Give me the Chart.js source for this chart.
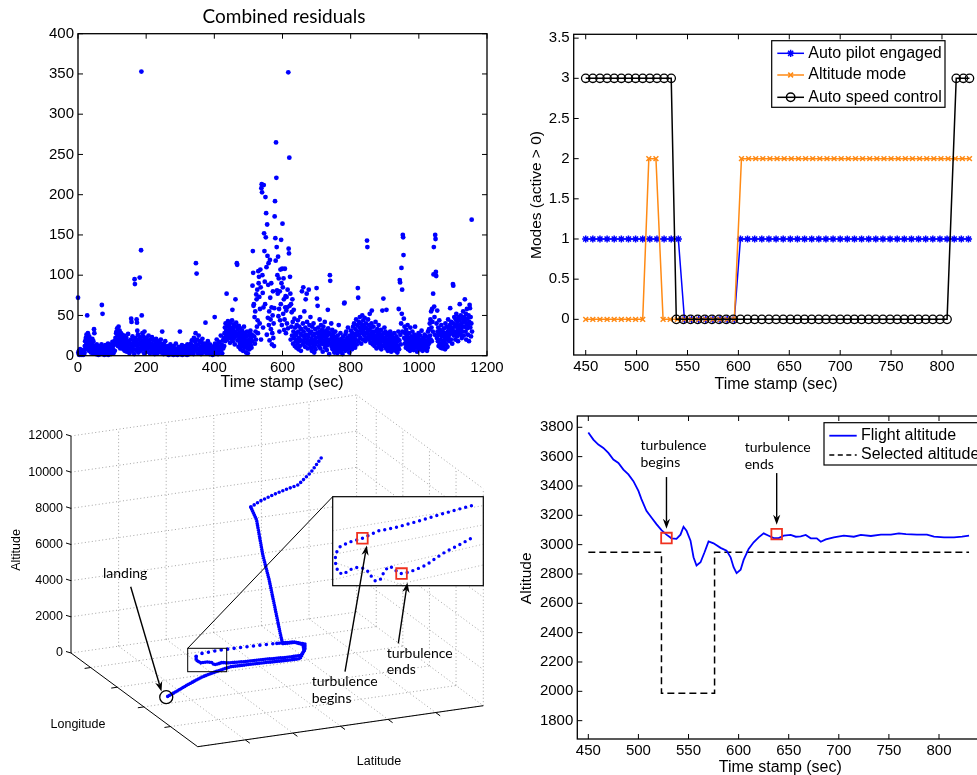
<!DOCTYPE html>
<html>
<head>
<meta charset="utf-8">
<script src="https://cdn.jsdelivr.net/npm/chart.js@4.4.1/dist/chart.umd.min.js"></script>
<style>
html, body { margin: 0; padding: 0; background: #fff; }
body { width: 977px; height: 775px; overflow: hidden; position: relative; }
canvas { position: absolute; }
</style>
</head>
<body>
<canvas id="resid" width="520" height="395" style="left:0;top:0"></canvas>
<canvas id="modes" width="500" height="395" style="left:500px;top:0"></canvas>
<canvas id="track" width="500" height="385" style="left:0;top:390px"></canvas>
<canvas id="alt" width="500" height="380" style="left:500px;top:395px"></canvas>
<script>
// ---------- data: combined residuals (time, residual) ----------
const residualTicksX = [0, 200, 400, 600, 800, 1000, 1200];
const residualTicksY = [0, 50, 100, 150, 200, 250, 300, 350, 400];
const residualPoints = [
  [0,72],[1,4],[2,2],[3,6],[4,1],[5,3],[6,8],[7,2],[8,5],[9,1],[10,4],[11,3],[12,7],[13,2],[14,5],[15,1],[16,3],[17,6],[18,2],[19,4],
  [20,12],[21,18],[22,8],[23,22],[24,14],[25,26],[26,10],[27,50],[28,17],[29,28],[30,12],[31,20],[32,6],[33,24],[34,15],[35,9],[36,19],[37,13],[38,4],[39,16],
  [40,11],[41,7],[42,21],[43,14],[44,3],[45,18],[46,9],[47,33],[48,28],[49,12],
  [51,5],[52,10],[53,2],[55,14],[56,7],[57,3],[59,11],[60,1],[61,8],[63,4],[64,12],[65,6],[67,2],[68,9],[69,14],[70,63],[71,5],[72,52],[73,7],[75,3],
  [76,10],[77,1],[79,6],[80,13],[81,4],[83,8],[84,2],[85,11],[87,5],[88,15],[89,1],[91,7],[92,3],[93,12],[95,6],[96,9],[97,2],[99,14],[100,5],[101,17],[103,8],[104,3],[105,13],[107,18],[108,6],
  [110,22],[111,15],[112,28],[113,30],[114,19],[115,34],[116,25],[117,12],[118,27],[119,36],[120,20],[121,16],[122,31],[123,24],[124,9],[125,21],[126,28],[127,14],[128,18],[129,26],
  [130,11],[131,23],[132,17],[133,8],[134,20],[135,13],[136,25],[137,6],[138,15],[139,19],
  [141,10],[142,22],[143,5],[145,16],[146,12],[147,27],[148,7],[150,18],[151,3],[152,14],[154,9],[155,20],[156,46],[157,42],[158,11],[159,6],[160,24],[161,15],[163,8],[164,19],
  [165,2],[166,95],[167,89],[168,13],[169,22],[170,7],[171,17],[172,45],[173,41],[174,31],[175,10],[176,26],[177,4],[178,14],[179,20],[180,9],[181,97],[182,16],[183,23],[184,6],
  [185,131],[186,353],[187,50],[188,12],[189,28],[190,19],[191,8],[192,24],[193,15],[194,3],[195,30],[196,11],[197,21],[198,17],[199,6],
  [200,14],[201,22],[203,9],[204,18],[205,5],[207,25],[208,12],[209,16],[211,3],[212,20],[213,10],[215,7],[216,15],[217,23],[219,4],[220,13],[221,19],[223,8],[224,11],[225,2],
  [227,17],[228,6],[229,21],[231,10],[232,14],[233,3],[235,18],[236,8],[237,12],[239,5],[240,16],[241,9],[243,20],[244,4],[245,11],[247,30],[248,7],[249,13],[251,2],[252,15],
  [253,9],[255,5],[256,18],[257,11],[259,3],
  [260,8],[262,2],[263,12],[265,5],[266,1],[268,9],[269,4],[271,14],[272,6],[274,2],[275,10],[277,3],[278,7],[280,1],[281,12],[283,5],[284,8],[286,2],[287,15],[289,4],
  [290,6],[292,1],[293,9],[295,3],[296,11],[298,5],[299,30],[300,2],[302,8],[303,4],[305,13],[306,1],[308,6],[309,10],[311,3],[312,7],[314,2],[315,12],[317,5],[318,9],
  [320,1],[321,14],[323,4],[324,8],[326,2],[327,11],[329,6],
  [330,9],[331,15],[333,4],[334,19],[336,7],[337,12],[339,2],[340,22],[341,10],[343,6],[344,17],[345,28],[346,115],[347,13],[348,102],[349,8],[350,20],[352,3],[353,14],[354,25],
  [356,9],[357,5],[358,18],[360,11],[361,2],[363,16],[364,7],[365,21],[367,12],[368,4],[370,9],[371,15],[373,6],[374,41],[375,10],[377,3],[378,13],[380,8],[381,18],[383,5],
  [384,11],[386,2],[387,14],[389,7],[390,3],[392,10],[393,5],[395,1],[396,8],[398,4],[399,12],
  [400,6],[401,48],[402,15],[404,3],[405,10],[407,20],[408,5],[410,13],[411,2],[413,8],[414,17],[416,4],[417,11],[419,25],[420,7],[422,14],[423,3],[425,19],[426,9],[428,22],[429,12],
  [430,28],[431,35],[432,18],[433,40],[434,24],[435,31],[436,77],[437,20],[438,36],[439,27],[440,43],[441,30],[442,22],[443,38],[444,26],[445,33],[446,16],[447,41],[448,29],[449,21],
  [450,35],[451,25],[452,44],[453,57],[454,18],[455,32],[456,27],[457,39],[458,22],[459,30],[460,14],[461,36],[462,70],[463,24],[464,41],[465,28],[466,115],[467,113],[468,19],[469,33],
  [470,25],[471,11],[472,37],[473,21],[474,29],[475,15],[476,34],[477,8],[478,23],[479,18],[480,27],[481,12],[482,31],[483,20],[484,6],[485,25],[486,16],[487,36],[488,10],[489,22],
  [490,28],[491,13],[492,19],[493,4],[494,24],[495,15],[496,30],[497,9],[498,3],[499,18],
  [500,12],[501,25],[502,20],[503,8],[504,28],[505,16],[506,31],[507,13],[508,22],[509,10],[510,26],[511,18],[512,87],[513,130],[514,103],[515,62],[516,64],[517,24],[518,48],[519,15],
  [520,55],[521,30],[522,20],[523,76],[524,70],[525,36],[526,82],[527,44],[528,28],[529,105],
  [530,90],[531,98],[532,73],[533,40],[534,58],[535,107],[536,85],[537,20],[538,208],[539,213],[540,203],[541,100],[542,78],[543,35],[544,60],[545,212],[546,152],[547,130],[548,92],[549,64],
  [550,197],[551,147],[552,177],[553,110],[554,26],[555,163],[556,124],[557,47],[558,88],[559,115],[560,38],[561,55],[562,19],[563,119],[564,72],[565,45],[566,33],[567,90],[568,60],[569,14],
  [570,28],[571,50],[572,80],[573,22],[574,40],[575,12],[576,59],[577,173],[578,192],[579,146],[580,118],[581,265],[582,221],[583,135],[584,81],[585,100],[586,77],[587,123],[588,49],[589,96],
  [590,58],[591,30],[592,80],[593,44],[594,107],[595,64],[596,144],[597,90],[598,38],[599,108],[600,164],[601,85],[602,52],[603,96],[604,70],[605,32],[606,45],[607,108],[608,60],[609,74],
  [610,28],[611,56],[612,73],[613,40],[614,60],[615,82],[616,34],[617,352],[618,133],[619,127],[620,246],[621,62],[622,98],[623,77],[624,20],[625,64],[626,36],[627,54],[628,25],[629,70],
  [630,42],[631,15],[632,30],[633,57],[634,22],[635,46],[636,12],[637,35],[638,28],[639,18],
  [640,26],[641,10],[642,38],[643,20],[644,15],[645,44],[646,30],[647,8],[648,22],[649,36],[650,18],[651,12],[652,48],[653,27],[654,6],[655,33],[656,19],[657,80],[658,25],[659,14],
  [660,40],[661,85],[662,30],[663,17],[664,55],[665,22],[666,11],[667,35],[668,70],[669,26],[670,16],[671,77],[672,42],[673,20],[674,9],[675,32],[676,24],[677,82],[678,14],[679,38],
  [680,28],[681,18],[682,48],[683,10],[684,30],[685,21],[686,6],[687,36],[688,15],[689,25],[690,11],[691,40],[692,19],[693,4],[694,27],[695,13],[696,33],[697,8],[698,22],[699,16],
  [700,84],[701,71],[702,28],[703,62],[704,17],[705,35],[706,24],[707,12],[708,30],[709,45],[710,20],[711,9],[712,26],[713,38],[714,15],[715,22],[716,32],[717,18],[718,5],[719,28],
  [720,36],[721,14],[722,24],[723,19],[724,42],[725,10],[726,27],[727,16],[728,31],[729,21],[730,7],[731,25],[732,13],[733,57],[734,34],[735,18],[736,29],[737,2],[738,20],[739,100],
  [740,93],[741,15],[742,26],[743,40],[744,11],[745,22],[746,32],[747,8],[748,17],[749,28],[750,13],[751,24],[752,4],[753,19],[754,10],[755,30],[756,15],[757,6],[758,22],[759,12],
  [760,18],[761,3],[762,25],[763,9],[764,14],[765,38],[766,20],[767,7],[768,16],[769,11],[770,28],[771,5],[772,13],[773,21],[774,8],[775,17],[776,2],[777,12],[778,24],[779,9],
  [780,15],[781,65],[782,66],[783,19],[784,6],[785,27],[786,12],[787,30],[788,18],[789,8],[790,22],[791,14],[792,35],[793,10],[794,20],[795,16],[796,4],[797,25],[798,13],[799,9],
  [800,20],[801,31],[802,14],[803,24],[804,8],[805,28],[806,18],[807,36],[808,12],[809,22],[810,40],[811,16],[812,27],[813,10],[814,33],[815,20],[816,45],[817,25],[818,14],[819,38],
  [820,30],[821,84],[822,72],[823,18],[824,42],[825,26],[826,35],[827,48],[828,22],[829,31],[830,40],[831,15],[832,36],[833,28],[834,50],[835,33],[836,20],[837,44],[838,30],[839,38],
  [840,25],[841,47],[842,35],[843,18],[844,28],[845,40],[846,22],[847,34],[848,143],[849,135],[850,30],[851,45],[852,26],[853,38],[854,20],[855,32],[856,52],[857,24],[858,16],[859,35],
  [860,27],[861,40],[862,56],[863,21],[864,30],[865,14],[866,26],[867,36],[868,18],[869,24],[870,12],[871,30],[872,20],[873,42],[874,16],[875,25],[876,9],[877,22],[878,33],[879,15],
  [880,28],[881,19],[882,38],[883,11],[884,24],[885,30],[886,17],[887,21],[888,14],[889,32],[890,8],[891,26],[892,19],[893,56],[894,23],[895,12],[896,71],[897,28],[898,17],[899,35],
  [900,22],[901,13],[902,30],[903,18],[904,9],[905,57],[906,25],[907,15],[908,20],[909,6],[910,28],[911,12],[912,18],[913,24],[914,8],[915,15],[916,30],[917,11],[918,20],[919,5],
  [920,16],[921,26],[922,10],[923,14],[924,22],[925,7],[926,18],[927,12],[928,28],[929,9],[930,15],[931,20],[932,6],[933,13],[934,24],[935,10],[936,17],[937,4],[938,21],[939,12],
  [940,30],[941,58],[942,8],[943,19],[944,94],[945,91],[946,26],[947,14],[948,40],[949,109],
  [950,52],[951,82],[952,30],[953,150],[954,147],[955,125],[956,46],[957,22],[958,36],[959,15],[960,28],[961,20],[962,10],[963,32],[964,18],[965,25],[966,12],[967,38],[968,8],[969,22],
  [970,16],[971,28],[972,13],[973,20],[974,6],[975,35],[976,18],[977,11],[978,24],[979,15],[980,9],[981,30],[982,19],[983,14],[984,22],[985,7],[986,17],[987,26],[988,12],[989,36],
  [990,20],[991,10],[992,15],[993,24],[994,18],[995,5],[996,13],[997,22],[998,9],[999,28],[1000,16],[1001,11],[1002,20],[1003,14],[1004,25],[1005,8],[1006,18],[1007,12],[1008,31],[1009,15],
  [1010,20],[1011,6],[1012,14],[1013,22],[1014,10],[1015,17],[1016,12],[1017,26],[1018,8],[1019,15],[1020,19],[1021,11],[1022,24],[1023,13],[1024,6],[1025,18],[1026,10],[1027,30],[1028,14],[1029,21],
  [1030,33],[1031,16],[1032,40],[1033,25],[1034,45],[1035,20],[1036,55],[1037,35],[1038,18],[1039,58],[1040,42],[1041,30],[1042,77],[1043,101],[1044,135],[1045,61],[1046,48],[1047,26],[1048,150],[1049,145],
  [1050,104],[1051,99],[1052,40],[1053,22],[1054,56],[1055,30],[1056,18],[1057,35],[1058,12],[1059,26],[1060,44],[1061,15],[1062,32],[1063,20],[1064,10],[1065,28],[1066,38],[1067,14],[1068,24],[1069,9],
  [1070,30],[1071,18],[1072,12],[1073,26],[1074,34],[1075,16],[1076,22],[1077,8],[1078,40],[1079,28],[1080,14],[1081,20],[1082,36],[1083,25],[1084,11],[1085,30],[1086,45],[1087,22],[1088,33],[1089,18],
  [1090,26],[1091,38],[1092,59],[1093,30],[1094,20],[1095,42],[1096,28],[1097,35],[1098,15],[1099,32],
  [1100,89],[1101,87],[1102,40],[1103,25],[1104,48],[1105,30],[1106,36],[1107,20],[1108,45],[1109,28],[1110,52],[1111,38],[1112,24],[1113,42],[1114,32],[1115,18],[1116,48],[1117,35],[1118,28],[1119,44],
  [1120,64],[1121,38],[1122,26],[1123,50],[1124,32],[1125,40],[1126,22],[1127,46],[1128,30],[1129,36],[1130,55],[1131,42],[1132,25],[1133,48],[1134,36],[1135,70],[1136,44],[1137,30],[1138,52],[1139,20],
  [1140,40],[1141,58],[1142,34],[1143,46],[1144,26],[1145,38],[1146,50],[1147,18],[1148,42],[1149,63],[1150,59],[1151,35],[1152,48],[1153,24],[1154,40],[1155,169],[1156,30]
];

// ---------- data: modes ----------
const modeTicksX = [450, 500, 550, 600, 650, 700, 750, 800];
const modeTicksY = [0, 0.5, 1, 1.5, 2, 2.5, 3, 3.5];
const autopilotTime = [450,457,464,471,478,485,492,499,506,513,520,527,534,541,547,554,561,568,575,582,589,596,602,609,616,623,630,637,644,651,658,665,672,679,686,693,700,707,714,721,728,735,742,749,756,763,770,777,784,791,798,805,812,819,826];
const autopilotMode = [1,1,1,1,1,1,1,1,1,1,1,1,1,1,0,0,0,0,0,0,0,0,1,1,1,1,1,1,1,1,1,1,1,1,1,1,1,1,1,1,1,1,1,1,1,1,1,1,1,1,1,1,1,1,1];
const altModeTime = [450,457,464,471,478,485,492,499,506,512,519,526,533,540,547,554,561,568,575,582,589,596,603,610,617,624,631,638,645,652,659,666,673,680,687,694,701,708,715,722,729,736,743,750,757,764,771,778,785,792,799,806,813,820,827];
const altMode = [0,0,0,0,0,0,0,0,0,2,2,0,0,0,0,0,0,0,0,0,0,0,2,2,2,2,2,2,2,2,2,2,2,2,2,2,2,2,2,2,2,2,2,2,2,2,2,2,2,2,2,2,2,2,2];
const speedTime = [450,457,464,471,478,485,492,499,506,513,520,527,534,539,546,553,560,567,574,581,588,595,602,609,616,623,630,637,644,651,658,665,672,679,686,693,700,707,714,721,728,735,742,749,756,763,770,777,784,791,798,805,814,821,827];
const speedMode = [3,3,3,3,3,3,3,3,3,3,3,3,3,0,0,0,0,0,0,0,0,0,0,0,0,0,0,0,0,0,0,0,0,0,0,0,0,0,0,0,0,0,0,0,0,0,0,0,0,0,0,0,3,3,3];

// ---------- data: 3D flight track (longitude / latitude as axis fractions, altitude) ----------
const altitude3dTicks = [0, 2000, 4000, 6000, 8000, 10000, 12000];
const latitudeGrid = [1/6, 2/6, 3/6, 4/6, 5/6];
const longitudeGrid = [0.155, 0.365, 0.575, 0.785];
const trackLon = [0.335,0.375,0.396,0.359,0.328,0.305,0.299,0.362,0.487,0.540,0.621,0.690,0.718,
  0.717,0.742,0.797,0.846,0.847,0.834,0.831,0.817,0.801,0.798,0.787,0.800,0.773,0.758,0.741,0.710,
  0.693,0.687,0.687,0.692,0.696,0.702,0.711,0.750,0.809,0.876,0.873,0.863,0.853,0.833,0.778,0.715,0.655,0.596,0.565];
const trackLat = [0.737,0.682,0.626,0.596,0.563,0.526,0.497,0.490,0.457,0.457,0.445,0.431,0.427,
  0.473,0.494,0.473,0.437,0.391,0.302,0.246,0.180,0.170,0.157,0.148,0.132,0.126,0.112,0.102,0.116,
  0.144,0.192,0.241,0.309,0.364,0.413,0.472,0.487,0.464,0.420,0.380,0.289,0.238,0.187,0.159,0.134,0.109,0.089,0.0715];
const trackAlt = [11200,10700,10200,9800,9400,9000,8700,8300,7000,5800,4400,3500,3100,
  3060,3060,3060,3060,3060,3060,3060,3050,3020,2950,2860,3100,3000,2900,3000,3030,
  3040,3040,3040,3050,3060,3060,3060,3060,3060,3060,3050,3040,3000,2900,2400,1800,1100,400,0];
// zoomed view of the turn (inset axes 0..100 x 0..60)
const insetX = [97.8,84.5,71.2,58.0,44.7,33.6,22.6,13.7,7.1,4.4,3.8,4.4,6.0,9.3,13.7,18.1,22.6,25.9,28.8,31.4,34.7,36.9,40.3,43.6,46.9,49.6,54.6,60.2,66.8,73.5,80.1,88.9,98.9];
const insetY = [56.6,52.8,48.8,44.7,40.9,38.7,33.5,30.8,27.4,22.9,18.4,13.9,9.4,7.9,11.0,12.8,12.4,10.6,6.5,3.4,3.8,8.3,13.3,12.8,9.4,8.5,9.4,11.7,14.6,19.6,24.0,28.5,34.2];
const insetTurbBegin = 6, insetTurbEnd = 25;

// ---------- data: altitude vs selected altitude ----------
const altTicksX = [450, 500, 550, 600, 650, 700, 750, 800];
const altTicksY = [1800, 2000, 2200, 2400, 2600, 2800, 3000, 3200, 3400, 3600, 3800];
const flightTime = [450,455,460,465,470,475,480,485,490,495,500,503,508,513,518,523,528,533,538,542,545,548,552,555,558,562,566,570,575,582,588,592,595,598,602,605,610,615,620,625,630,635,640,645,652,657,662,667,672,678,682,687,695,705,715,722,732,742,752,760,767,778,788,795,805,815,823,830];
const flightAlt = [3765,3716,3682,3659,3625,3580,3557,3512,3479,3433,3366,3310,3230,3185,3140,3099,3068,3043,3039,3068,3122,3095,3027,2914,2858,2880,2948,3022,3009,2978,2959,2914,2846,2806,2829,2896,2971,3016,3050,3077,3061,3045,3045,3061,3066,3054,3056,3066,3043,3043,3020,3036,3050,3061,3054,3066,3059,3068,3068,3077,3072,3068,3068,3054,3050,3050,3054,3061];
const selectedTime = [450, 523, 523, 576, 576, 830];
const selectedAlt = [2948, 2948, 1987, 1987, 2948, 2948];
const turbulenceTime = [528, 638];
const turbulenceAlt = [3045, 3072];

// ---------- helpers ----------
const FONT = '"Liberation Sans", Arial, sans-serif';
const NOTE = 'Lato, "Open Sans", sans-serif';
const BLUE = '#0000ff';
const ORANGE = '#ff8a14';
const RED = '#f0311f';

function pts(xs, ys) { return xs.map((x, i) => ({ x: x, y: ys[i] })); }

function text(ctx, s, x, y, font, align, rot) {
  ctx.save();
  ctx.translate(x, y);
  if (rot) ctx.rotate(rot);
  ctx.font = font;
  ctx.fillStyle = '#000';
  ctx.textAlign = align || 'center';
  ctx.textBaseline = 'middle';
  ctx.fillText(s, 0, 0);
  ctx.restore();
}

function arrow(ctx, x0, y0, x1, y1) {
  const a = Math.atan2(y1 - y0, x1 - x0), L = 10, W = 3.6;
  const c = Math.cos(a), s = Math.sin(a);
  ctx.save();
  ctx.strokeStyle = '#000'; ctx.fillStyle = '#000'; ctx.lineWidth = 1.4;
  ctx.beginPath(); ctx.moveTo(x0, y0); ctx.lineTo(x1 - L * 0.7 * c, y1 - L * 0.7 * s); ctx.stroke();
  ctx.beginPath();
  ctx.moveTo(x1, y1);
  ctx.lineTo(x1 - L * c + W * s, y1 - L * s - W * c);
  ctx.lineTo(x1 - L * 0.7 * c, y1 - L * 0.7 * s);
  ctx.lineTo(x1 - L * c - W * s, y1 - L * s + W * c);
  ctx.closePath(); ctx.fill();
  ctx.restore();
}

function marker(ctx, style, x, y, r, color) {
  ctx.save();
  ctx.strokeStyle = color; ctx.lineWidth = 1.5;
  ctx.beginPath();
  if (style === 'star') { ctx.moveTo(x - r, y); ctx.lineTo(x + r, y); ctx.moveTo(x, y - r); ctx.lineTo(x, y + r); }
  if (style === 'star' || style === 'crossRot') {
    const d = r * 0.707;
    ctx.moveTo(x - d, y - d); ctx.lineTo(x + d, y + d); ctx.moveTo(x - d, y + d); ctx.lineTo(x + d, y - d);
  }
  if (style === 'circle') ctx.arc(x, y, r, 0, Math.PI * 2);
  ctx.stroke();
  ctx.restore();
}

function legend(ctx, box, rows) {
  ctx.save();
  ctx.fillStyle = '#fff';
  ctx.fillRect(box.x, box.y, box.w, box.h);
  ctx.strokeStyle = '#000'; ctx.lineWidth = 1.2;
  ctx.strokeRect(box.x, box.y, box.w, box.h);
  rows.forEach(r => {
    ctx.save();
    ctx.strokeStyle = r.color; ctx.lineWidth = r.width || 1.5;
    ctx.setLineDash(r.dash || []);
    ctx.beginPath(); ctx.moveTo(box.lx0, r.y); ctx.lineTo(box.lx1, r.y); ctx.stroke();
    ctx.restore();
    if (r.style) marker(ctx, r.style, (box.lx0 + box.lx1) / 2, r.y, r.radius, r.color);
    text(ctx, r.label, box.tx, r.y, '16px ' + FONT, 'left');
  });
  ctx.restore();
}

// MATLAB style box with inward ticks on all four sides
function frame(chart) {
  const { ctx, chartArea: a } = chart;
  const x = chart.scales.x, y = chart.scales.y;
  ctx.save();
  ctx.strokeStyle = '#000'; ctx.lineWidth = 1;
  ctx.beginPath();
  x.ticks.forEach(t => {
    const p = x.getPixelForValue(t.value);
    ctx.moveTo(p, a.bottom); ctx.lineTo(p, a.bottom - 5);
    ctx.moveTo(p, a.top); ctx.lineTo(p, a.top + 5);
  });
  y.ticks.forEach(t => {
    const p = y.getPixelForValue(t.value);
    ctx.moveTo(a.left, p); ctx.lineTo(a.left + 5, p);
    ctx.moveTo(a.right, p); ctx.lineTo(a.right - 5, p);
  });
  ctx.stroke();
  ctx.lineWidth = 1.3;
  ctx.strokeRect(a.left, a.top, a.right - a.left, a.bottom - a.top);
  ctx.restore();
}

function axis(min, max, ticks, fitSize, horizontal) {
  return {
    type: 'linear', min: min, max: max,
    grid: { display: false, drawTicks: false },
    border: { display: false },
    ticks: { color: '#000', font: { family: FONT, size: 15 }, padding: horizontal ? 3 : 4,
             autoSkip: false, maxRotation: 0, callback: v => String(v) },
    afterBuildTicks: s => { s.ticks = ticks.map(v => ({ value: v })); },
    afterFit: s => {
      if (horizontal) { s.height = fitSize; s.paddingLeft = 0; s.paddingRight = 0; }
      else { s.width = fitSize; s.paddingTop = 0; s.paddingBottom = 0; }
    }
  };
}

const common = { responsive: false, animation: false, events: [],
  plugins: { legend: { display: false }, tooltip: { enabled: false } } };

// ---------- chart 1: combined residuals ----------
new Chart(document.getElementById('resid'), {
  type: 'scatter',
  data: { datasets: [{
    data: residualPoints.map(p => ({ x: p[0], y: p[1] })),
    backgroundColor: BLUE, borderWidth: 0, pointRadius: 2.4, clip: false
  }] },
  options: Object.assign({}, common, {
    layout: { padding: { left: 0, top: 33.7, right: 33, bottom: 0 } },
    scales: { x: axis(0, 1200, residualTicksX, 39.3, true), y: axis(0, 400, residualTicksY, 78, false) }
  }),
  plugins: [{ id: 'residDeco', afterDatasetsDraw(chart) {
    frame(chart);
    const ctx = chart.ctx;
    ctx.save(); ctx.font = '19px ' + NOTE; ctx.fillStyle = '#000'; ctx.textAlign = 'center'; ctx.textBaseline = 'alphabetic';
    ctx.fillText('Combined residuals', 284, 22.5); ctx.restore();
    text(ctx, 'Time stamp (sec)', 282, 383, '16px ' + FONT);
  } }]
});

// ---------- chart 2: modes ----------
new Chart(document.getElementById('modes'), {
  type: 'scatter',
  data: { datasets: [
    { data: pts(autopilotTime, autopilotMode), showLine: true, borderColor: BLUE, backgroundColor: BLUE,
      borderWidth: 1.5, pointStyle: 'star', pointRadius: 3.6, pointBorderWidth: 1.5, clip: false, order: 3 },
    { data: pts(altModeTime, altMode), showLine: true, borderColor: ORANGE, backgroundColor: ORANGE,
      borderWidth: 1.5, pointStyle: 'crossRot', pointRadius: 3.4, pointBorderWidth: 1.5, clip: false, order: 2 },
    { data: pts(speedTime, speedMode), showLine: true, borderColor: '#000', backgroundColor: 'rgba(0,0,0,0)',
      borderWidth: 1.5, pointStyle: 'circle', pointRadius: 4.2, pointBorderWidth: 1.3, clip: false, order: 1 }
  ] },
  options: Object.assign({}, common, {
    layout: { padding: { left: 0, top: 34.3, right: 17.3, bottom: 0 } },
    scales: { x: axis(438.2, 840, modeTicksX, 40, true), y: axis(-0.444, 3.548, modeTicksY, 73.7, false) }
  }),
  plugins: [{ id: 'modesDeco', afterDatasetsDraw(chart) {
    frame(chart);
    const ctx = chart.ctx;
    text(ctx, 'Time stamp (sec)', 276, 385, '16px ' + FONT);
    text(ctx, 'Modes (active > 0)', 36.7, 195, '15.5px ' + FONT, 'center', -Math.PI / 2);
    legend(ctx, { x: 271.7, y: 40.7, w: 173.3, h: 66.6, lx0: 277.3, lx1: 304, tx: 308.3 }, [
      { label: 'Auto pilot engaged', y: 53.3, color: BLUE, style: 'star', radius: 3.6 },
      { label: 'Altitude mode', y: 75, color: ORANGE, style: 'crossRot', radius: 3.4 },
      { label: 'Auto speed control', y: 97.3, color: '#000', style: 'circle', radius: 4.2 }
    ]);
  } }]
});

// ---------- chart 3: 3D flight track ----------
const OFF_Y = 390;
function proj(lon, lat, alt) {
  return { x: 71 + 126.7 * lon + 285.6 * lat,
           y: 653 - OFF_Y + 93.7 * lon - 41 * lat - alt * 217 / 12000 };
}
const INSET = { x: 332.7, y: 496.7 - OFF_Y, w: 150.6, h: 89 };
function insetProj(ix, iy) {
  return { x: INSET.x + ix / 100 * INSET.w, y: INSET.y + (60 - iy) / 60 * INSET.h };
}
const trackPts = trackLon.map((u, i) => proj(u, trackLat[i], trackAlt[i]));
const insetPts = insetX.map((x, i) => insetProj(x, insetY[i]));
const landing = trackPts[trackPts.length - 1];

function seg(ctx, a, b) {
  ctx.moveTo(a.x, a.y); ctx.lineTo(b.x, b.y);
}

new Chart(document.getElementById('track'), {
  type: 'scatter',
  data: { datasets: [
    { data: [insetPts[insetTurbBegin], insetPts[insetTurbEnd]], pointStyle: 'rect', pointRadius: 7.5,
      borderColor: RED, pointBorderWidth: 1.8, backgroundColor: 'rgba(0,0,0,0)', order: 1 },
    { data: [landing], pointStyle: 'circle', pointRadius: 6.5, borderColor: '#000', pointBorderWidth: 1.3,
      backgroundColor: 'rgba(0,0,0,0)', order: 2 },
    { data: insetPts, showLine: true, pointRadius: 0, borderColor: BLUE, borderWidth: 3.4,
      borderCapStyle: 'round', borderDash: [0, 6], order: 3 },
    { data: trackPts, showLine: true, pointRadius: 0, borderColor: BLUE, borderWidth: 3.6,
      borderCapStyle: 'round', order: 4,
      segment: { borderDash: c => c.p0DataIndex < 6 ? [0, 4] : (c.p0DataIndex >= 28 && c.p0DataIndex < 34 ? [0, 6.5] : [0, 2.2]) } }
  ] },
  options: Object.assign({}, common, {
    layout: { padding: 0 },
    scales: { x: { type: 'linear', display: false, min: 0, max: 500 },
              y: { type: 'linear', display: false, min: 0, max: 385, reverse: true } }
  }),
  plugins: [{ id: 'box3d',
    beforeDatasetsDraw(chart) {
      const ctx = chart.ctx;
      const top = altitude3dTicks[altitude3dTicks.length - 1];
      ctx.save();
      ctx.strokeStyle = '#9a9a9a'; ctx.lineWidth = 0.9; ctx.setLineDash([1, 2.5]);
      ctx.beginPath();
      altitude3dTicks.forEach(a => {
        seg(ctx, proj(0, 0, a), proj(0, 1, a));   // back wall
        seg(ctx, proj(0, 1, a), proj(1, 1, a));   // side wall
      });
      latitudeGrid.concat([1]).forEach(f => {
        seg(ctx, proj(0, f, 0), proj(0, f, top));
        if (f < 1) seg(ctx, proj(0, f, 0), proj(1, f, 0));
      });
      longitudeGrid.concat([1]).forEach(f => {
        seg(ctx, proj(f, 1, 0), proj(f, 1, top));
        seg(ctx, proj(f, 0, 0), proj(f, 1, 0));
      });
      ctx.stroke();
      ctx.restore();
      // solid axes with ticks
      ctx.save();
      ctx.strokeStyle = '#000'; ctx.lineWidth = 1;
      ctx.beginPath();
      seg(ctx, proj(0, 0, 0), proj(0, 0, top));
      seg(ctx, proj(0, 0, 0), proj(1, 0, 0));
      seg(ctx, proj(1, 0, 0), proj(1, 1, 0));
      altitude3dTicks.forEach(a => { const p = proj(0, 0, a); ctx.moveTo(p.x, p.y); ctx.lineTo(p.x - 5, p.y - 1.5); });
      longitudeGrid.forEach(f => { const p = proj(f, 0, 0); ctx.moveTo(p.x, p.y); ctx.lineTo(p.x - 6, p.y + 0.9); });
      latitudeGrid.forEach(f => { const p = proj(1, f, 0); ctx.moveTo(p.x, p.y); ctx.lineTo(p.x + 4.5, p.y + 3.3); });
      ctx.stroke();
      ctx.restore();
      altitude3dTicks.forEach(a => { const p = proj(0, 0, a); text(ctx, String(a), p.x - 8, p.y, '12.5px ' + FONT, 'right'); });
      // inset axes
      ctx.save();
      ctx.fillStyle = '#fff';
      ctx.fillRect(INSET.x, INSET.y, INSET.w, INSET.h);
      ctx.beginPath(); ctx.rect(INSET.x, INSET.y, INSET.w, INSET.h); ctx.clip();
      ctx.strokeStyle = '#a8a8a8'; ctx.lineWidth = 0.9; ctx.setLineDash([1, 2.5]);
      ctx.beginPath();
      seg(ctx, insetProj(0, 37), insetProj(100, 54));
      seg(ctx, insetProj(0, 21), insetProj(100, 41));
      seg(ctx, insetProj(0, 4), insetProj(100, 28));
      seg(ctx, insetProj(40, 0), insetProj(100, 14));
      seg(ctx, insetProj(48, 0), insetProj(0, 16));
      ctx.stroke();
      ctx.restore();
      ctx.save(); ctx.strokeStyle = '#000'; ctx.lineWidth = 1.2;
      ctx.strokeRect(INSET.x, INSET.y, INSET.w, INSET.h); ctx.restore();
    },
    afterDatasetsDraw(chart) {
      const ctx = chart.ctx;
      // small box around the turn and the zoom line
      ctx.save(); ctx.strokeStyle = '#000'; ctx.lineWidth = 1;
      ctx.strokeRect(187.7, 648.3 - OFF_Y, 39, 23.4);
      ctx.beginPath(); ctx.moveTo(187.7, 648.3 - OFF_Y); ctx.lineTo(INSET.x, INSET.y); ctx.stroke();
      ctx.restore();
      text(ctx, 'Altitude', 16.7, 160, '12.5px ' + FONT, 'center', -Math.PI / 2);
      text(ctx, 'Longitude', 78, 335, '12.5px ' + FONT);
      text(ctx, 'Latitude', 379, 371.7, '12.5px ' + FONT);
      text(ctx, 'landing', 103, 183.3, '14px ' + NOTE, 'left');
      arrow(ctx, 130.7, 196.7, landing.x - 1.5, landing.y - 11.5);
      const b = insetPts[insetTurbBegin], e = insetPts[insetTurbEnd];
      text(ctx, 'turbulence', 311.7, 291.7, '14px ' + NOTE, 'left');
      text(ctx, 'begins', 311.7, 308.3, '14px ' + NOTE, 'left');
      arrow(ctx, 345, 281.7, b.x, b.y + 9.4);
      text(ctx, 'turbulence', 386.7, 263.3, '14px ' + NOTE, 'left');
      text(ctx, 'ends', 386.7, 279.3, '14px ' + NOTE, 'left');
      arrow(ctx, 398.3, 253.3, e.x, e.y + 9.4);
    }
  }]
});

// ---------- chart 4: flight altitude ----------
new Chart(document.getElementById('alt'), {
  type: 'scatter',
  data: { datasets: [
    { data: pts(turbulenceTime, turbulenceAlt), pointStyle: 'rect', pointRadius: 7.5, borderColor: RED,
      pointBorderWidth: 1.8, backgroundColor: 'rgba(0,0,0,0)', clip: false, order: 1 },
    { data: pts(flightTime, flightAlt), showLine: true, pointRadius: 0, borderColor: BLUE, borderWidth: 1.8, order: 2 },
    { data: pts(selectedTime, selectedAlt), showLine: true, pointRadius: 0, borderColor: '#000', borderWidth: 1.5,
      borderDash: [7, 4], order: 3 }
  ] },
  options: Object.assign({}, common, {
    layout: { padding: { left: 0, top: 21, right: 10.9, bottom: 0 } },
    scales: { x: axis(439, 850, altTicksX, 36, true), y: axis(1675, 3877, altTicksY, 77.3, false) }
  }),
  plugins: [{ id: 'altDeco', afterDatasetsDraw(chart) {
    frame(chart);
    const ctx = chart.ctx, x = chart.scales.x, y = chart.scales.y;
    text(ctx, 'Time stamp (sec)', 280.3, 372.3, '16px ' + FONT);
    text(ctx, 'Altitude', 26.7, 183.3, '15.5px ' + FONT, 'center', -Math.PI / 2);
    legend(ctx, { x: 324, y: 27.7, w: 200, h: 42.3, lx0: 329.3, lx1: 356.7, tx: 361 }, [
      { label: 'Flight altitude', y: 40.7, color: BLUE, width: 1.8 },
      { label: 'Selected altitude', y: 60, color: '#000', dash: [5, 3.5] }
    ]);
    const labels = [['turbulence', 'begins'], ['turbulence', 'ends']];
    const dx = [-26, -32];
    turbulenceTime.forEach((t, i) => {
      const px = x.getPixelForValue(t), py = y.getPixelForValue(turbulenceAlt[i]);
      arrow(ctx, px, py - 61, px, py - 9.4);
      text(ctx, labels[i][0], px + dx[i], py - 92.7 + (i ? 6 : 0), '14px ' + NOTE, 'left');
      text(ctx, labels[i][1], px + dx[i], py - 75.4 + (i ? 6 : 0), '14px ' + NOTE, 'left');
    });
  } }]
});
</script>
</body>
</html>
